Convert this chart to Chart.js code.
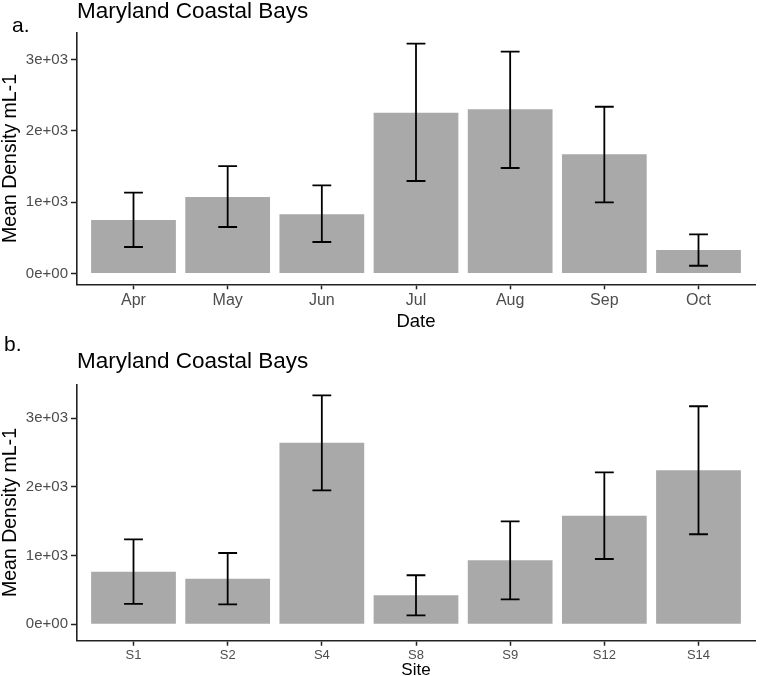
<!DOCTYPE html>
<html>
<head>
<meta charset="utf-8">
<script src="https://cdn.jsdelivr.net/npm/chart.js@4"></script>
<style>
  html, body { margin: 0; padding: 0; background: #ffffff; }
  body { width: 761px; height: 676px; position: relative; overflow: hidden; }
  canvas { position: absolute; left: 0; }
  #cA { top: 0; }
  #cB { top: 330px; }
</style>
</head>
<body>
<canvas id="cA" width="761" height="330"></canvas>
<canvas id="cB" width="761" height="346"></canvas>
<script>
// ---- Data ----
const months = ['Apr', 'May', 'Jun', 'Jul', 'Aug', 'Sep', 'Oct'];
const monthMean = [750, 1072, 830, 2254, 2302, 1671, 329];
const monthHigh = [1133, 1507, 1237, 3222, 3110, 2338, 550];
const monthLow  = [372, 652, 442, 1297, 1479, 998, 109];

const sites = ['S1', 'S2', 'S4', 'S8', 'S9', 'S12', 'S14'];
const siteMean = [766, 664, 2645, 422, 932, 1581, 2243];
const siteHigh = [1238, 1038, 3335, 714, 1500, 2213, 3175];
const siteLow  = [296, 291, 1951, 131, 364, 951, 1311];

const yTickValues = [0, 1000, 2000, 3000];
const yTickLabels = ['0e+00', '1e+03', '2e+03', '3e+03'];

const FONT = "'Liberation Sans', Arial, Helvetica, sans-serif";
const AXIS_COLOR = '#222222';
const TICK_TEXT = '#4d4d4d';
const BAR_COLOR = '#a9a9a9';

function makeChart(canvasId, cfg) {
  const errorBars = {
    id: 'errorBars',
    afterDatasetsDraw(chart) {
      const ctx = chart.ctx;
      const xs = chart.scales.x, ys = chart.scales.y;
      ctx.save();
      ctx.strokeStyle = '#000000';
      ctx.lineWidth = 1.8;
      cfg.categories.forEach((c, i) => {
        const xv = i + 1;
        const x = xs.getPixelForValue(xv);
        const xl = xs.getPixelForValue(xv - 0.1);
        const xr = xs.getPixelForValue(xv + 0.1);
        const yh = ys.getPixelForValue(cfg.high[i]);
        const yl = ys.getPixelForValue(cfg.low[i]);
        ctx.beginPath();
        ctx.moveTo(x, yh); ctx.lineTo(x, yl);
        ctx.moveTo(xl, yh); ctx.lineTo(xr, yh);
        ctx.moveTo(xl, yl); ctx.lineTo(xr, yl);
        ctx.stroke();
      });
      ctx.restore();
    }
  };
  const texts = {
    id: 'texts',
    afterDraw(chart) {
      const ctx = chart.ctx;
      const ca = chart.chartArea;
      ctx.save();
      ctx.fillStyle = '#000000';
      ctx.textBaseline = 'alphabetic';
      // panel letter
      ctx.font = cfg.letterSize + 'px ' + FONT;
      ctx.textAlign = 'left';
      ctx.fillText(cfg.letter, cfg.letterX, cfg.letterY);
      // title
      ctx.font = cfg.titleSize + 'px ' + FONT;
      ctx.fillText('Maryland Coastal Bays', ca.left, cfg.titleY);
      // x title
      ctx.font = cfg.xTitleSize + 'px ' + FONT;
      ctx.textAlign = 'center';
      ctx.fillText(cfg.xTitle, (ca.left + ca.right) / 2, cfg.xTitleY);
      // y title
      ctx.font = cfg.yTitleSize + 'px ' + FONT;
      ctx.translate(15.5, (ca.top + ca.bottom) / 2);
      ctx.rotate(-Math.PI / 2);
      ctx.fillText('Mean Density mL-1', 0, 0);
      ctx.restore();
    }
  };

  return new Chart(document.getElementById(canvasId), {
    type: 'bar',
    data: {
      datasets: [{
        data: cfg.mean.map((v, i) => ({ x: i + 1, y: v })),
        backgroundColor: BAR_COLOR,
        borderWidth: 0,
        categoryPercentage: 1.0,
        barPercentage: 0.9
      }]
    },
    options: {
      responsive: false,
      animation: false,
      events: [],
      layout: { padding: { top: cfg.top, right: 6, left: 0, bottom: 0 } },
      plugins: { legend: { display: false }, tooltip: { enabled: false }, title: { display: false } },
      scales: {
        x: {
          type: 'linear',
          min: 0.4,
          max: 7.6,
          offset: false,
          afterBuildTicks(scale) {
            scale.ticks = cfg.categories.map((c, i) => ({ value: i + 1 }));
          },
          afterFit(scale) { scale.height = cfg.xHeight; },
          ticks: {
            autoSkip: false,
            maxRotation: 0,
            padding: 2,
            color: TICK_TEXT,
            font: { family: FONT, size: cfg.xTickSize },
            callback: (v) => cfg.categories[Math.round(v) - 1]
          },
          grid: { display: true, offset: false, drawOnChartArea: false, drawTicks: true, tickLength: 5, tickColor: AXIS_COLOR, tickWidth: 1.5 },
          border: { display: true, color: AXIS_COLOR, width: 1.6 }
        },
        y: {
          type: 'linear',
          min: cfg.yMin,
          max: cfg.yMax,
          afterBuildTicks(scale) {
            scale.ticks = yTickValues.map(v => ({ value: v }));
          },
          afterFit(scale) { scale.width = 77; },
          ticks: {
            padding: 3,
            color: TICK_TEXT,
            font: { family: FONT, size: 15 },
            callback: (v) => yTickLabels[yTickValues.indexOf(v)]
          },
          grid: { display: true, offset: false, drawOnChartArea: false, drawTicks: true, tickLength: 6, tickColor: AXIS_COLOR, tickWidth: 1.5 },
          border: { display: true, color: AXIS_COLOR, width: 1.6 }
        }
      }
    },
    plugins: [errorBars, texts]
  });
}

makeChart('cA', {
  categories: months, mean: monthMean, high: monthHigh, low: monthLow,
  yMin: -151, yMax: 3376,
  top: 32.7, xHeight: 45.7,
  xTickSize: 16, xTitle: 'Date', xTitleSize: 18.5, xTitleY: 327.3,
  letter: 'a.', letterX: 12, letterY: 32.3, letterSize: 21,
  titleSize: 22.5, titleY: 17.8, yTitleSize: 19.5
});

makeChart('cB', {
  categories: sites, mean: siteMean, high: siteHigh, low: siteLow,
  yMin: -239, yMax: 3495,
  top: 54.3, xHeight: 35.3,
  xTickSize: 13, xTitle: 'Site', xTitleSize: 17, xTitleY: 345,
  letter: 'b.', letterX: 4, letterY: 20.7, letterSize: 21,
  titleSize: 22.5, titleY: 37.5, yTitleSize: 19.5
});
</script>
</body>
</html>
